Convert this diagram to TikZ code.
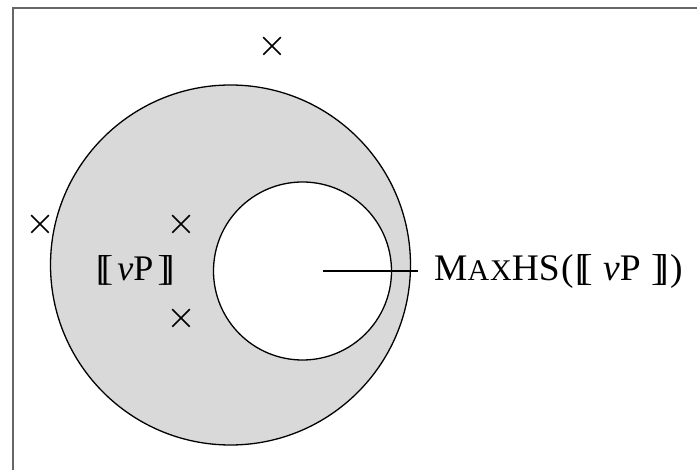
\documentclass[tikz,border=0pt]{standalone}
\usepackage{fontspec}
\setmainfont{Liberation Serif}
\usetikzlibrary{shapes.misc}
\tikzset{
  kreuz/.style={cross out,draw,line width=1.5pt,minimum size=16pt,inner sep=0pt},
  rand/.style={line width=1.3pt},
  schrift/.style={font=\fontsize{37.5}{40}\selectfont,anchor=base west,inner sep=0pt}
}
\newcommand{\lsem}{[\kern-0.2em[}
\newcommand{\rsem}{]\kern-0.2em]}
\newcommand{\vpsem}[1]{\lsem\kern#1\textit{ν}P\kern#1\rsem}
\begin{document}
\begin{tikzpicture}[x=1pt,y=-1pt]
      \useasboundingbox (0,0) rectangle (697,470);
      % Rahmen (nur oben und links)
      \draw[line width=1.6pt,gray!80!black] (697,8) -- (13,8) -- (13,470);

      % grosser Kreis, grau gefuellt
      \filldraw[rand,fill=gray!30] (230.5,265) circle (180);
      % kleiner Kreis, weiss
      \filldraw[rand,fill=white] (302.5,271) circle (89);
      \coordinate (mitte) at (323,271);

      % Kreuze
      \node[kreuz] (k1) at (272,46) {};
      \node[kreuz] (k2) at (40,224) {};
      \node[kreuz] (k3) at (181,224) {};
      \node[kreuz] (k4) at (181,318) {};

      % Beschriftungen
      \node[schrift,font=\fontsize{36}{40}\selectfont] (vp) at (96,281) {\vpsem{0.12em}};
      \node[schrift] (max) at (434,281)
        {M{\fontsize{30}{32}\selectfont A\kern0.03em X}HS\kern0.04em(\kern0.04em\vpsem{0.28em}\kern0.04em)};
      \draw[rand] (mitte) -- ([xshift=-16pt]max.west |- mitte);
    \end{tikzpicture}
\end{document}
